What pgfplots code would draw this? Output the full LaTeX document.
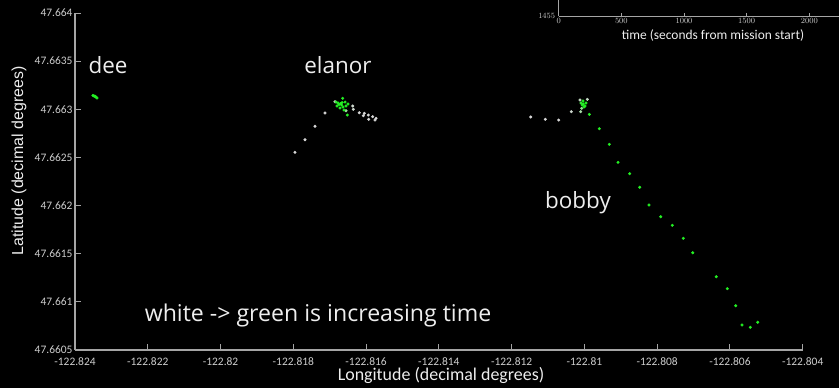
\documentclass[border=0pt]{standalone}
\usepackage{fontspec}
\setmainfont{Carlito}
\newfontfamily\arialf{Liberation Sans}
\newfontfamily\opensans{Open Sans}
\usepackage{pgfplots}
\pgfplotsset{compat=1.18}
\usepackage{pgfplotstable}
\definecolor{axgray}{RGB}{165,165,165}
\definecolor{tickgray}{RGB}{205,205,205}
\definecolor{txt}{RGB}{238,238,238}

% x = longitude offset from -122.824 in units of 0.001 deg
% y = latitude offset from 47.6605 in units of 0.001 deg
% c = relative time (0 = white, early; 1 = green, late)
\pgfplotstableread{
x y c
0.495 2.643 1
0.522 2.638 1
0.550 2.636 1
0.577 2.627 1
0.605 2.617 1
0.560 2.630 1
}\dee

\pgfplotstableread{
x y c
8.273 2.406 0
8.245 2.388 0
8.182 2.423 0
8.072 2.396 0
8.061 2.440 0
7.924 2.433 0
7.951 2.458 0
7.814 2.464 0
7.649 2.500 0.05
7.632 2.534 0.05
6.046 2.053 0
6.321 2.184 0
6.596 2.323 0
6.871 2.461 0
7.146 2.578 0.1
7.448 2.485 0.3
7.173 2.575 0.9
7.228 2.565 1
7.256 2.549 1
7.201 2.534 1
7.283 2.513 1
7.330 2.544 1
7.366 2.523 1
7.393 2.492 1
7.421 2.575 1
7.448 2.534 1
7.503 2.555 1
7.357 2.614 1
7.484 2.440 1
7.300 2.560 1
7.340 2.570 1
}\elanor

\pgfplotstableread{
x y c
12.524 2.420 0
12.926 2.396 0
13.294 2.388 0
13.640 2.475 0.05
13.879 2.596 0.1
14.080 2.603 0.1
13.898 2.475 0.25
13.926 2.510 0.35
13.907 2.565 0.9
13.962 2.586 1
13.970 2.555 1
14.044 2.565 1
14.017 2.534 1
13.989 2.523 1
13.940 2.545 1
14.135 2.447 1
14.410 2.298 1
14.685 2.136 1
14.924 1.949 1
15.245 1.831 1
15.520 1.690 1
15.776 1.506 1
16.097 1.384 1
16.416 1.295 1
16.718 1.160 1
16.977 1.010 1
17.625 0.761 1
17.928 0.637 1
18.159 0.460 1
18.332 0.260 1
18.560 0.236 1
18.763 0.288 1
}\bobby

\begin{document}
\begin{tikzpicture}[x=1bp,y=1bp]
\fill[black] (0,0) rectangle (839,388);
\begin{axis}[
  at={(75bp,38bp)}, anchor=south west, scale only axis,
  width=727.7bp, height=337bp,
  xmin=0, xmax=20, ymin=0, ymax=3.5,
  axis x line*=bottom, axis y line*=left,
  axis line style={-, draw=axgray, line width=1.1bp},
  tick align=inside, major tick length=6bp,
  tick style={draw=axgray, line width=0.9bp},
  xtick={0,2,4,6,8,10,12,14,16,18,20},
  xticklabels={-122.824,-122.822,-122.82,-122.818,-122.816,-122.814,-122.812,-122.81,-122.808,-122.806,-122.804},
  ytick={0,0.5,1,1.5,2,2.5,3,3.5},
  yticklabels={47.6605,47.661,47.6615,47.662,47.6625,47.663,47.6635,47.664},
  ticklabel style={font=\fontsize{11.5}{12}\selectfont, text=tickgray},
  xticklabel style={yshift=-4bp},
  yticklabel style={xshift=1bp},
  colormap={wg}{rgb255=(215,215,215) rgb255=(35,240,35)},
  point meta min=0, point meta max=1,
  clip=false,
]
\addplot[scatter, only marks, mark=*, mark size=1.3bp,
  scatter/use mapped color={draw=mapped color, fill=mapped color},
  point meta=explicit] table[x=x, y=y, meta=c] {\dee};
\addplot[scatter, only marks, mark=*, mark size=1.3bp,
  scatter/use mapped color={draw=mapped color, fill=mapped color},
  point meta=explicit] table[x=x, y=y, meta=c] {\elanor};
\addplot[scatter, only marks, mark=*, mark size=1.3bp,
  scatter/use mapped color={draw=mapped color, fill=mapped color},
  point meta=explicit] table[x=x, y=y, meta=c] {\bobby};
\end{axis}

\begin{axis}[
  at={(558.7bp,372bp)}, anchor=south west, scale only axis,
  width=281.9bp, height=120bp,
  xmin=0, xmax=2250, ymin=1455, ymax=1465,
  axis x line*=bottom, axis y line*=left,
  axis line style={-, draw=axgray, line width=0.9bp},
  tick align=inside, major tick length=3bp,
  tick style={draw=axgray, line width=0.7bp},
  xtick={0,500,1000,1500,2000}, ytick={1455},
  ticklabel style={font=\arialf\fontsize{8.4}{9}\selectfont, text=tickgray},
  xticklabel style={yshift=1bp},
  /pgf/number format/.cd, 1000 sep={},
]
\end{axis}

\node[txt, font=\fontsize{13.5}{15}\selectfont, anchor=base] at (713,349) {time (seconds from mission start)};
\node[txt, font=\opensans\fontsize{22.5}{26}\selectfont, anchor=base] at (108,315) {dee};
\node[txt, font=\opensans\fontsize{22.5}{26}\selectfont, anchor=base] at (338,315) {elanor};
\node[txt, font=\opensans\fontsize{22.5}{26}\selectfont, anchor=base] at (578,180) {bobby};
\node[txt, font=\opensans\fontsize{23.2}{27}\selectfont, anchor=base] at (318,66.5) {white -> green is increasing time};
\node[txt, font=\fontsize{18}{21}\selectfont, anchor=base] at (441,7.3) {Longitude (decimal degrees)};
\node[txt, font=\arialf\fontsize{16}{19}\selectfont, anchor=base, rotate=90] at (23,227) {Latitude (decimal degrees)};

\pgfresetboundingbox
\useasboundingbox (0,0) rectangle (839,388);
\end{tikzpicture}
\end{document}
